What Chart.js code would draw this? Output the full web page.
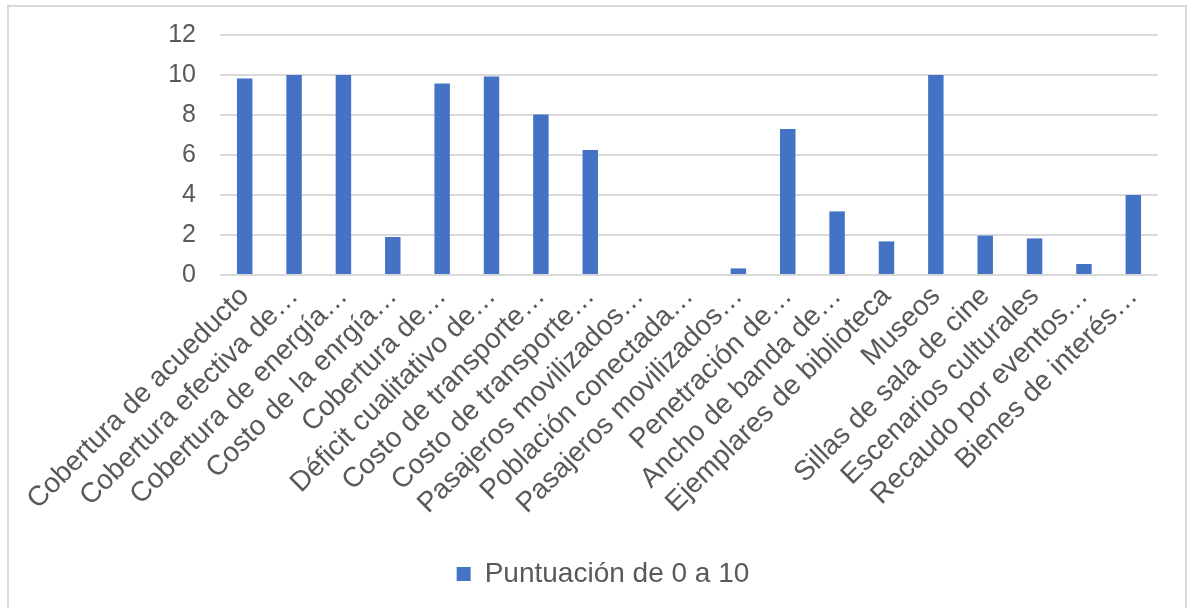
<!DOCTYPE html>
<html>
<head>
<meta charset="utf-8">
<script src="https://cdn.jsdelivr.net/npm/chart.js@4/dist/chart.umd.min.js"></script>
<style>
  html, body { margin: 0; padding: 0; background: #ffffff; }
  #wrap { position: relative; width: 1188px; height: 608px; }
  canvas { display: block; }
</style>
</head>
<body>
<div id="wrap"><canvas id="chart" width="1188" height="608"></canvas></div>
<script>
// Indicator names (truncated as shown on the axis)
const categories = [
  'Cobertura de acueducto',
  'Cobertura efectiva de…',
  'Cobertura de energía…',
  'Costo de la enrgía…',
  'Cobertura de…',
  'Déficit cualitativo de…',
  'Costo de transporte…',
  'Costo de transporte…',
  'Pasajeros movilizados…',
  'Población conectada…',
  'Pasajeros movilizados…',
  'Penetración de…',
  'Ancho de banda de…',
  'Ejemplares de biblioteca',
  'Museos',
  'Sillas de sala de cine',
  'Escenarios culturales',
  'Recaudo por eventos…',
  'Bienes de interés…'
];

// Score per indicator
const scores = [9.83, 10, 10, 1.9, 9.58, 9.92, 8.03, 6.25, 0, 0, 0.33, 7.3, 3.18, 1.68, 10, 1.97, 1.83, 0.55, 4.0];

const seriesName = 'Puntuación de 0 a 10';
const yTicks = [0, 2, 4, 6, 8, 10, 12];

const FONT = "'Liberation Sans', Arial, sans-serif";
const TEXT = '#595959';

// Light grey frame around the chart
const framePlugin = {
  id: 'frame',
  beforeDraw(chart) {
    const c = chart.ctx;
    c.save();
    c.fillStyle = '#ffffff';
    c.fillRect(0, 0, chart.width, chart.height);
    c.strokeStyle = '#d9d9d9';
    c.lineWidth = 2;
    c.strokeRect(8, 6, 1178, 700);
    c.restore();
  }
};

// Centre the legend on the framed area rather than on the plot
const legendShift = {
  id: 'legendShift',
  afterLayout(chart) {
    if (chart.legend) {
      chart.legend.left += 24;
      chart.legend.right += 24;
    }
  }
};

new Chart(document.getElementById('chart'), {
  type: 'bar',
  data: {
    labels: categories,
    datasets: [{
      label: seriesName,
      data: scores,
      backgroundColor: '#4472C4',
      borderWidth: 0,
      categoryPercentage: 1,
      barPercentage: 0.313
    }]
  },
  options: {
    responsive: false,
    animation: false,
    devicePixelRatio: 1,
    layout: { padding: { top: 35, right: 30, bottom: 10, left: 0 } },
    plugins: {
      legend: {
        position: 'bottom',
        labels: {
          boxWidth: 14,
          boxHeight: 14,
          color: TEXT,
          font: { family: FONT, size: 28 },
          padding: 10
        }
      },
      tooltip: { enabled: false }
    },
    scales: {
      x: {
        grid: { display: false },
        border: { display: false },
        ticks: {
          color: TEXT,
          font: { family: FONT, size: 28 },
          minRotation: 45,
          maxRotation: 45,
          autoSkip: false,
          padding: -3
        },
        afterFit(scale) { scale.height = 275; }
      },
      y: {
        min: 0,
        max: 12,
        afterBuildTicks(scale) { scale.ticks = yTicks.map(v => ({ value: v })); },
        grid: {
          color: '#d9d9d9',
          lineWidth: 2,
          drawTicks: true,
          tickLength: 16,
          tickColor: 'rgba(0,0,0,0)'
        },
        border: { display: false },
        ticks: {
          color: TEXT,
          font: { family: FONT, size: 25 },
          padding: 8
        },
        afterFit(scale) { scale.width = 220; }
      }
    }
  },
  plugins: [framePlugin, legendShift]
});
</script>
</body>
</html>
